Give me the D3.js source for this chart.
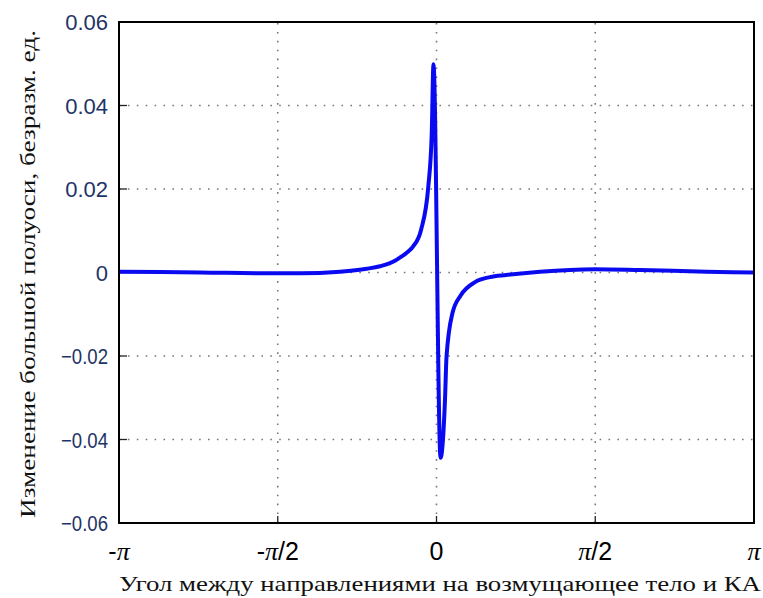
<!DOCTYPE html>
<meta charset="utf-8">
<script src="https://d3js.org/d3.v7.min.js"></script>
<body style="margin:0;background:#fff">
<svg id="chart" width="763" height="598"></svg>
<script>
// angle (rad) and change of semi-major axis
const angle = [-3.1416, -2.34, -1.5708, -1.351, -0.955, -0.691, -0.559, -0.411, -0.361, -0.262, -0.233, -0.153,
  -0.081, -0.047, -0.030, 0.040, 0.084, 0.099, 0.158, 0.242, 0.381, 0.529, 0.688, 1.024, 1.569, 2.014, 2.674, 3.1416];
const dA = [0.0002, 0.0000, -0.0002, -0.0002, 0.0002, 0.0009, 0.0015, 0.0028, 0.0036, 0.0054, 0.0062, 0.0102,
  0.0206, 0.0334, 0.0499, -0.0444, -0.0305, -0.0202, -0.0097, -0.0054, -0.0023, -0.0011, -0.0006, 0.0002,
  0.0008, 0.0006, 0.0002, 0.0000];

const xTicks = [-Math.PI, -Math.PI / 2, 0, Math.PI / 2, Math.PI];
const xTickLabels = [["-", "π", ""], ["-", "π", "/2"], ["0", "", ""], ["", "π", "/2"], ["", "π", ""]];
const yTicks = [-0.06, -0.04, -0.02, 0, 0.02, 0.04, 0.06];

const svg = d3.select("#chart");
const mLeft = 119, mRight = 754, mTop = 22, mBottom = 523;

const x = d3.scaleLinear().domain([-Math.PI, Math.PI]).range([mLeft, mRight]);
const y = d3.scaleLinear().domain([-0.06, 0.06]).range([mBottom, mTop]);

// dotted grid
const grid = svg.append("g").attr("stroke", "#777").attr("stroke-width", 1.6)
  .attr("stroke-dasharray", "1.6,7.3");
grid.selectAll("line.gx").data(xTicks.slice(1, -1)).join("line")
  .attr("x1", d => x(d)).attr("x2", d => x(d)).attr("y1", mBottom).attr("y2", mTop);
grid.selectAll("line.gy").data(yTicks.slice(1, -1)).join("line")
  .attr("y1", d => y(d)).attr("y2", d => y(d)).attr("x1", mLeft).attr("x2", mRight);

// inner ticks
const ticks = svg.append("g").attr("stroke", "#222").attr("stroke-width", 1.3);
ticks.selectAll("line.tx").data(xTicks).join("line")
  .attr("x1", d => x(d)).attr("x2", d => x(d)).attr("y1", mBottom).attr("y2", mBottom - 7);
ticks.selectAll("line.ty").data(yTicks).join("line")
  .attr("y1", d => y(d)).attr("y2", d => y(d)).attr("x1", mLeft).attr("x2", mLeft + 8);

// curve
const line = d3.line().x((d, i) => x(angle[i])).y(d => y(d)).curve(d3.curveMonotoneX);
svg.append("path").datum(dA).attr("d", line)
  .attr("fill", "none").attr("stroke", "#0a0af0").attr("stroke-width", 4)
  .attr("stroke-linejoin", "round");

// frame
svg.append("rect").attr("x", mLeft).attr("y", mTop).attr("width", mRight - mLeft).attr("height", mBottom - mTop)
  .attr("fill", "none").attr("stroke", "#000").attr("stroke-width", 2);

// tick labels
svg.append("g").selectAll("text").data(yTicks).join("text")
  .attr("x", 108).attr("y", d => y(d) + 8)
  .attr("text-anchor", "end").attr("fill", "#1f3466")
  .attr("textLength", d => d < 0 ? 47 : null).attr("lengthAdjust", "spacingAndGlyphs")
  .style("font", "22px 'Liberation Sans', Arial, sans-serif")
  .text(d => d === 0 ? "0" : (d < 0 ? "\u22120" : "0") + d3.format(".2f")(Math.abs(d)).slice(1));

const xl = svg.append("g").selectAll("text").data(xTicks).join("text")
  .attr("x", d => x(d)).attr("y", 560)
  .attr("text-anchor", "middle").attr("fill", "#000")
  .style("font", "25px 'Liberation Sans', Arial, sans-serif");
xl.each(function (d, i) {
  const t = d3.select(this), parts = xTickLabels[i];
  t.append("tspan").text(parts[0]);
  if (parts[1]) t.append("tspan").style("font", "italic 26px 'Liberation Serif', serif").text(parts[1]);
  if (parts[2]) t.append("tspan").text(parts[2]);
});

// axis titles
svg.append("text").attr("x", 440).attr("y", 591).attr("text-anchor", "middle")
  .attr("textLength", 642).attr("lengthAdjust", "spacingAndGlyphs")
  .style("font", "22px 'Liberation Serif', 'Times New Roman', serif").attr("fill", "#111")
  .text("Угол между направлениями на возмущающее тело и КА");

svg.append("text").attr("transform", "translate(35,274) rotate(-90)").attr("text-anchor", "middle")
  .attr("textLength", 488).attr("lengthAdjust", "spacingAndGlyphs")
  .style("font", "22px 'Liberation Serif', 'Times New Roman', serif").attr("fill", "#111")
  .text("Изменение большой полуоси, безразм. ед.");
</script>
</body>
